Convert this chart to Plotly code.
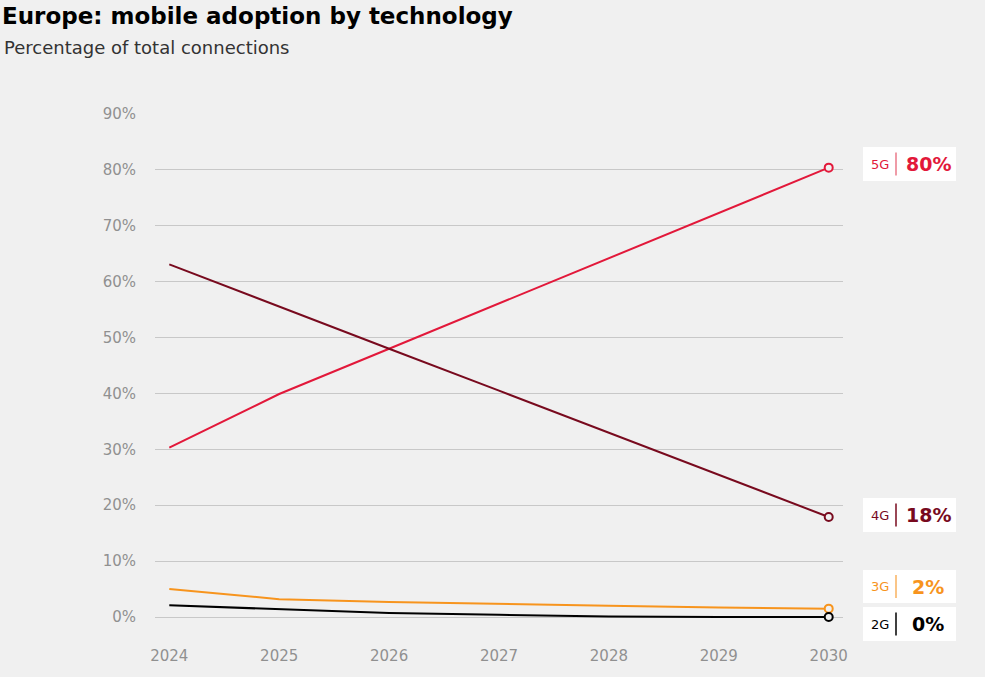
import plotly.graph_objects as go

years = [2024, 2025, 2026, 2027, 2028, 2029, 2030]
g5 = [30.3, 39.9, 48.0, 56.1, 64.3, 72.4, 80.4]
g4 = [63.1, 55.5, 48.0, 40.5, 33.0, 25.5, 17.9]
g3 = [5.0, 3.2, 2.7, 2.3, 2.0, 1.7, 1.5]
g2 = [2.1, 1.4, 0.7, 0.4, 0.1, 0.0, 0.0]

series_names = ["5G", "4G", "3G", "2G"]
series_values = [g5, g4, g3, g2]
end_labels = ["80%", "18%", "2%", "0%"]
colors = ["#e2183a", "#780a1e", "#f7941d", "#000000"]
bar_colors = ["#ea7a8a", "#780a1e", "#f9b25f", "#000000"]

y_ticks = [0, 10, 20, 30, 40, 50, 60, 70, 80, 90]
y_ticklabels = [f"{v}%" for v in y_ticks]

FONT = "DejaVu Sans"
BG = "#f0f0f0"

fig = go.Figure()
for name, vals, c in zip(series_names, series_values, colors):
    fig.add_trace(go.Scatter(x=years, y=vals, mode="lines", name=name,
                             line=dict(color=c, width=2), hoverinfo="skip"))
for name, vals, c in zip(series_names, series_values, colors):
    fig.add_trace(go.Scatter(x=[years[-1]], y=[vals[-1]], mode="markers",
                             marker=dict(symbol="circle", size=8, color=BG,
                                         line=dict(color=c, width=2)),
                             hoverinfo="skip"))

# right-side labels (paper coordinates)
L, W = 155, 688
B, H = 631, 517
def px(x):
    return (x - L) / W
def py(y):
    return (B - y) / H

boxes = [(147, 181), (498, 532), (570, 603), (607, 641)]
shapes = []
annotations = []
for (top, bot), name, lab, c, bc in zip(boxes, series_names, end_labels, colors, bar_colors):
    shapes.append(dict(type="rect", xref="paper", yref="paper",
                       x0=px(863), x1=px(956), y0=py(bot), y1=py(top),
                       fillcolor="white", line=dict(width=0), layer="above"))
    mid = (top + bot) / 2
    shapes.append(dict(type="line", xref="paper", yref="paper",
                       x0=px(896), x1=px(896), y0=py(mid + 11.5), y1=py(mid - 11.5),
                       line=dict(color=bc, width=1.5), layer="above"))
    annotations.append(dict(xref="paper", yref="paper", x=px(880), y=py(mid),
                            text=name, showarrow=False, xanchor="center", yanchor="middle",
                            font=dict(family=FONT, size=13, color=c)))
    annotations.append(dict(xref="paper", yref="paper", x=px(928), y=py(mid),
                            text=f"<b>{lab}</b>", showarrow=False, xanchor="center", yanchor="middle",
                            font=dict(family=FONT, size=19, color=c)))

annotations.append(dict(xref="paper", yref="paper", x=px(2), y=py(47),
                        text="Percentage of total connections", showarrow=False,
                        xanchor="left", yanchor="middle",
                        font=dict(family=FONT, size=18, color="#333333")))

fig.update_layout(
    width=985, height=677,
    paper_bgcolor=BG, plot_bgcolor=BG,
    margin=dict(l=L, r=985 - L - W, t=114, b=677 - B),
    showlegend=False,
    title=dict(text="<b>Europe: mobile adoption by technology</b>", xref="container",
               yref="container", x=2 / 985, xanchor="left", y=1 - 16 / 677, yanchor="middle",
               font=dict(family=FONT, size=23, color="#000000")),
    xaxis=dict(range=[2023.87, 2030.13], tickvals=years, ticktext=[str(y) for y in years],
               showgrid=False, zeroline=False, showline=False, ticks="",
               ticklabelstandoff=14,
               tickfont=dict(family=FONT, size=15, color="#909090")),
    yaxis=dict(range=[-2.5, 90], tickvals=y_ticks, ticktext=y_ticklabels,
               showgrid=True, gridcolor="#c8c8c8", gridwidth=1,
               zeroline=False, showline=False, ticks="", ticklabelstandoff=18,
               tickfont=dict(family=FONT, size=15, color="#909090")),
    shapes=shapes, annotations=annotations,
)

fig.write_html("out.html", config={"displayModeBar": False},
               post_script="document.body.style.margin='0';document.body.style.background='#f0f0f0';")
